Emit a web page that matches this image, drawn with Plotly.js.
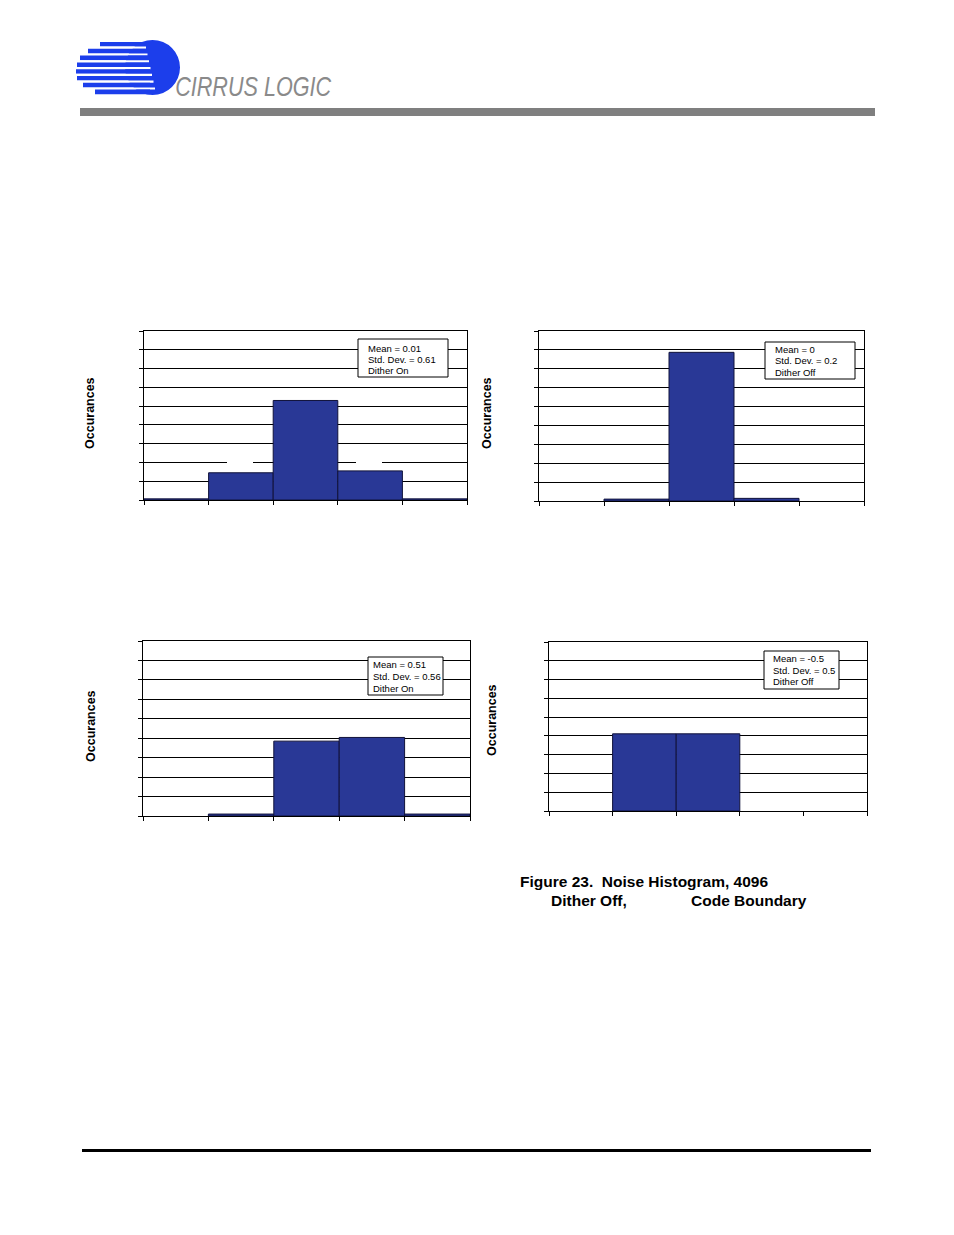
<!DOCTYPE html>
<html>
<head>
<meta charset="utf-8">
<script src="https://cdn.plot.ly/plotly-3.0.1.min.js"></script>
<style>
html,body{margin:0;padding:0;background:#fff;}
#chart{width:954px;height:1235px;}
</style>
</head>
<body>
<div id="chart"></div>
<script>
// ---- data ----
var binIndex = [0, 1, 2, 3, 4];
var binEdges = [-0.5, 0.5, 1.5, 2.5, 3.5, 4.5];
var yTicks = [0, 1, 2, 3, 4, 5, 6, 7, 8, 9];
var counts1 = [0.06, 1.45, 5.3, 1.55, 0.06];
var counts2 = [0, 0.1, 7.87, 0.14, 0];
var counts3 = [0, 0.1, 3.85, 4.04, 0.1];
var counts4 = [0, 4.11, 4.11, 0, 0];
var stats1 = ["Mean = 0.01", "Std. Dev. = 0.61", "Dither On"];
var stats2 = ["Mean = 0", "Std. Dev. = 0.2", "Dither Off"];
var stats3 = ["Mean = 0.51", "Std. Dev. = 0.56", "Dither On"];
var stats4 = ["Mean = -0.5", "Std. Dev. = 0.5", "Dither Off"];
var yTitle = "Occurances";
var captionLine1 = "Figure 23.  Noise Histogram, 4096";
var captionLine2a = "Dither Off,";
var captionLine2b = "Code Boundary";
var logoText = "CIRRUS LOGIC";

// ---- layout helpers ----
var W = 954, H = 1235;
function px(x){ return x / W; }
function py(y){ return 1 - y / H; }
var FONT = "Liberation Sans, Arial, Helvetica, sans-serif";
var BAR = "rgb(41,56,150)";

var panels = [
  {counts: counts1, stats: stats1, x: [144, 467], y: [331, 500], box: [358, 339, 448, 377], tx: 366, ty: [348, 359.5, 371], title: [90, 413]},
  {counts: counts2, stats: stats2, x: [539, 864], y: [331, 501], box: [765, 342, 855, 379], tx: 773, ty: [349, 360.5, 372], title: [487, 413]},
  {counts: counts3, stats: stats3, x: [143, 470], y: [641, 816], box: [368, 657, 443, 695], tx: 371, ty: [664, 676, 688], title: [91, 726]},
  {counts: counts4, stats: stats4, x: [549, 867], y: [642, 811], box: [764, 651, 839, 689], tx: 771, ty: [658, 670, 681.5], title: [492, 720]}
];

var data = [];
var layout = {
  width: W, height: H,
  margin: {l: 0, r: 0, t: 0, b: 0},
  paper_bgcolor: "#fff", plot_bgcolor: "rgba(0,0,0,0)",
  showlegend: false, bargap: 0,
  font: {family: FONT, color: "#000"},
  shapes: [], annotations: []
};

panels.forEach(function(p, i){
  var n = i + 1;
  var xa = "x" + (n === 1 ? "" : n), ya = "y" + (n === 1 ? "" : n);
  data.push({
    type: "bar", x: binIndex, y: p.counts, width: 1,
    xaxis: xa, yaxis: ya,
    marker: {color: BAR, line: {color: "#10123a", width: p.counts.map(function(v){ return v > 0 ? 1 : 0; })}},
    hoverinfo: "skip"
  });
  layout["xaxis" + (n === 1 ? "" : n)] = {
    domain: [px(p.x[0]), px(p.x[1])], anchor: ya,
    range: [-0.5, 4.5], tickmode: "array", tickvals: binEdges,
    showticklabels: false, ticks: "outside", ticklen: 4, tickcolor: "#000", tickwidth: 1,
    showline: true, linecolor: "#000", linewidth: 1, mirror: true,
    showgrid: false, zeroline: false, fixedrange: true
  };
  layout["yaxis" + (n === 1 ? "" : n)] = {
    domain: [py(p.y[1]), py(p.y[0])], anchor: xa,
    range: [0, 9], tickmode: "array", tickvals: yTicks,
    showticklabels: false, ticks: "outside", ticklen: 4, tickcolor: "#000", tickwidth: 1,
    showline: true, linecolor: "#000", linewidth: 1, mirror: true,
    showgrid: true, gridcolor: "#000", gridwidth: 1, zeroline: false, fixedrange: true
  };
  // stats box
  layout.shapes.push({type: "rect", xref: "paper", yref: "paper",
    x0: px(p.box[0]), x1: px(p.box[2]), y0: py(p.box[3]), y1: py(p.box[1]),
    fillcolor: "#fff", line: {color: "#000", width: 1}, layer: "above"});
  p.stats.forEach(function(s, k){
    layout.annotations.push({xref: "paper", yref: "paper", x: px(p.tx), y: py(p.ty[k]),
      xanchor: "left", yanchor: "middle", showarrow: false, text: s,
      font: {family: FONT, size: 9.5, color: "#000"}});
  });
  layout.annotations.push({xref: "paper", yref: "paper", x: px(p.title[0]), y: py(p.title[1]),
    xanchor: "center", yanchor: "middle", showarrow: false, textangle: -90,
    text: "<b>" + yTitle + "</b>", font: {family: FONT, size: 12.5, color: "#000"}});
});

// gaps in one gridline of panel 1 (as in the reference)
[[227, 253], [356, 382]].forEach(function(g){
  layout.shapes.push({type: "rect", xref: "paper", yref: "paper",
    x0: px(g[0]), x1: px(g[1]), y0: py(464), y1: py(460),
    fillcolor: "#fff", line: {width: 0}, layer: "above"});
});

// header bar
layout.shapes.push({type: "rect", xref: "paper", yref: "paper",
  x0: px(80), x1: px(875), y0: py(116), y1: py(108), fillcolor: "#7f7f7f", line: {width: 0}});
// footer rule
layout.shapes.push({type: "rect", xref: "paper", yref: "paper",
  x0: px(82), x1: px(871), y0: py(1152), y1: py(1149), fillcolor: "#000", line: {width: 0}});

// logo: circle + stripes
var LOGO = "rgb(28,62,235)";
layout.shapes.push({type: "circle", xref: "paper", yref: "paper",
  x0: px(125), x1: px(180), y0: py(95), y1: py(40), fillcolor: LOGO, line: {width: 0}});
var stripeTop = 42, period = 6.8, thick = 4.6;
var starts = [100, 88, 80, 77, 76, 77, 83, 95];
starts.forEach(function(s, k){
  var y0 = stripeTop + k * period;
  layout.shapes.push({type: "rect", xref: "paper", yref: "paper",
    x0: px(s), x1: px(150), y0: py(y0 + thick), y1: py(y0), fillcolor: LOGO, line: {width: 0}});
  if (k < starts.length - 1) {
    layout.shapes.push({type: "rect", xref: "paper", yref: "paper",
      x0: px(70), x1: px(146 + k * 1.5), y0: py(y0 + period), y1: py(y0 + thick),
      fillcolor: "#fff", line: {width: 0}});
  }
});
layout.annotations.push({xref: "paper", yref: "paper", x: px(253), y: py(87),
  xanchor: "center", yanchor: "middle", showarrow: false, text: logoText,
  font: {family: FONT, size: 28, color: "#8a8a8a", style: "italic"}});

// caption
var CAP = 15.5;
layout.annotations.push({xref: "paper", yref: "paper", x: px(518), y: py(881),
  xanchor: "left", yanchor: "middle", showarrow: false, text: "<b>" + captionLine1 + "</b>",
  font: {family: FONT, size: CAP, color: "#000"}});
layout.annotations.push({xref: "paper", yref: "paper", x: px(549), y: py(900),
  xanchor: "left", yanchor: "middle", showarrow: false, text: "<b>" + captionLine2a + "</b>",
  font: {family: FONT, size: CAP, color: "#000"}});
layout.annotations.push({xref: "paper", yref: "paper", x: px(689), y: py(900),
  xanchor: "left", yanchor: "middle", showarrow: false, text: "<b>" + captionLine2b + "</b>",
  font: {family: FONT, size: CAP, color: "#000"}});

Plotly.newPlot("chart", data, layout, {displayModeBar: false, staticPlot: true}).then(function(gd){
  // condense the logo wordmark to its narrow width
  var texts = gd.querySelectorAll(".annotation-text");
  texts.forEach(function(t){
    if (t.textContent === logoText) {
      t.setAttribute("textLength", "156");
      t.setAttribute("lengthAdjust", "spacingAndGlyphs");
    }
  });
});
</script>
</body>
</html>
